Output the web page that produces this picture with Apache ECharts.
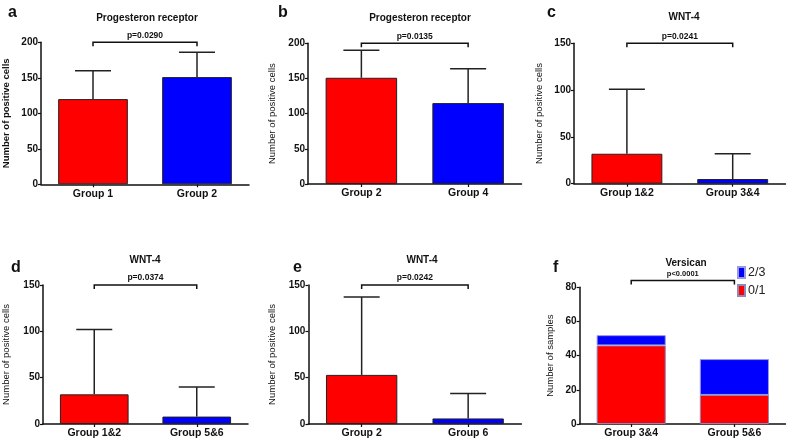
<!DOCTYPE html>
<html><head><meta charset="utf-8">
<script src="https://cdn.jsdelivr.net/npm/echarts@6/dist/echarts.min.js"></script>
<style>html,body{margin:0;padding:0;background:#fff}#c{width:786px;height:439px}</style>
</head><body><div id="c"></div>
<script>
// ---- data ----
const catsA = ['Group 1', 'Group 2'];
const meanA = [120, 151];
const sdA = [40, 35];
const catsB = ['Group 2', 'Group 4'];
const meanB = [151, 115];
const sdB = [39, 49];
const catsC = ['Group 1&2', 'Group 3&4'];
const meanC = [32, 5];
const sdC = [69, 27];
const catsD = ['Group 1&2', 'Group 5&6'];
const meanD = [32, 8];
const sdD = [70, 32];
const catsE = ['Group 2', 'Group 6'];
const meanE = [53, 6];
const sdE = [84, 27];
const catsF = ['Group 3&4', 'Group 5&6'];
const fLow = [46, 17];   // 0/1
const fHigh = [6, 21];   // 2/3
const titles = ['Progesteron receptor', 'Progesteron receptor', 'WNT-4', 'WNT-4', 'WNT-4', 'Versican'];
const panelLetters = ['a', 'b', 'c', 'd', 'e', 'f'];
const pTexts = ['p=0.0290', 'p=0.0135', 'p=0.0241', 'p=0.0374', 'p=0.0242', 'p<0.0001'];
const bracketLevels = [200, 200, 150, 150, 150, 84];
const yMax = [200, 200, 150, 150, 150, 80];
const yInt = [50, 50, 50, 50, 50, 20];
const yNames = ['Number of positive cells', 'Number of positive cells', 'Number of positive cells', 'Number of positive cells', 'Number of positive cells', 'Number of samples'];

// ---- layout ----
const FONT = 'Liberation Sans, Arial, sans-serif';
const RED = '#ff0000', BLUE = '#0000ff';
const grids = [
  {left: 35, top: 42.3, width: 214, height: 142},
  {left: 308, top: 43.3, width: 213.5, height: 140.7},
  {left: 574, top: 43.3, width: 211.6, height: 140.4},
  {left: 37, top: 285, width: 211, height: 141.7},
  {left: 308.4, top: 285, width: 213, height: 141.7},
  {left: 579.6, top: 287.3, width: 206.4, height: 137}
];
const nameGaps = [30, 31, 30, 32, 31, 24];
const nameBold = [true, false, false, false, false, false];
const titlePos = [[142, 13], [415, 13], [679, 12], [140, 255], [417, 255], [681, 258]];
const letterPos = [[3, 0], [273, 0], [542, 0], [6, 255], [288, 255], [548, 255]];
const allCats = [catsA, catsB, catsC, catsD, catsE, catsF];
const means = [meanA, meanB, meanC, meanD, meanE];
const sds = [sdA, sdB, sdC, sdD, sdE];

const xAxis = [], yAxis = [], series = [], title = [];
for (let i = 0; i < 6; i++) {
  xAxis.push({
    gridIndex: i, type: 'category', data: allCats[i],
    axisLine: {lineStyle: {color: '#111', width: 1.5}},
    axisTick: {show: true, alignWithLabel: true, length: 3, lineStyle: {color: '#111', width: 1.2}},
    axisLabel: {fontFamily: FONT, fontWeight: 'bold', fontSize: 10.5, color: '#111', margin: 4}
  });
  yAxis.push({
    gridIndex: i, type: 'value', min: 0, max: yMax[i], interval: yInt[i],
    name: yNames[i], nameLocation: 'middle', nameGap: nameGaps[i], nameRotate: 90,
    nameTextStyle: {fontFamily: FONT, fontSize: 9.5, fontWeight: nameBold[i] ? 'bold' : 'normal', color: '#111'},
    axisLine: {show: true, lineStyle: {color: '#111', width: 1.5}},
    axisTick: {show: true, length: 3, lineStyle: {color: '#111', width: 1.2}},
    axisLabel: {fontFamily: FONT, fontWeight: 'bold', fontSize: 10, color: '#111', margin: 3},
    splitLine: {show: false}
  });
  title.push({text: titles[i], left: titlePos[i][0], top: titlePos[i][1], textAlign: 'center', textVerticalAlign: 'middle',
    textStyle: {fontFamily: FONT, fontWeight: 'bold', fontSize: 10, color: '#111'}});
  title.push({text: panelLetters[i], left: letterPos[i][0], top: letterPos[i][1],
    textStyle: {fontFamily: FONT, fontWeight: 'bold', fontSize: 16, color: '#111'}});
  // bracket with p-value
  series.push({
    type: 'custom', xAxisIndex: i, yAxisIndex: i, z: 5, silent: true,
    data: [[0, bracketLevels[i], 1]],
    renderItem: (function (idx) {
      return function (params, api) {
        const p0 = api.coord([0, api.value(1)]);
        const p1 = api.coord([1, api.value(1)]);
        return {type: 'group', children: [
          {type: 'polyline', shape: {points: [[p0[0], p0[1] + 4], [p0[0], p0[1]], [p1[0], p1[1]], [p1[0], p1[1] + 4]]},
            style: {stroke: '#111', lineWidth: 1.5, fill: null}},
          {type: 'text', style: {text: pTexts[idx], x: (p0[0] + p1[0]) / 2, y: p0[1] - 7,
            align: 'center', verticalAlign: 'middle', fontFamily: FONT, fontWeight: 'bold',
            fontSize: idx === 5 ? 7.5 : 8.5, fill: '#111'}}
        ]};
      };
    })(i)
  });
}

for (let i = 0; i < 5; i++) {
  series.push({
    type: 'bar', xAxisIndex: i, yAxisIndex: i, barWidth: '67%',
    data: means[i].map((v, k) => ({value: v, itemStyle: {color: k === 0 ? RED : BLUE}})),
    itemStyle: {borderColor: '#222', borderWidth: 1}
  });
  series.push({
    type: 'custom', xAxisIndex: i, yAxisIndex: i, z: 4, silent: true,
    data: means[i].map((v, k) => [k, v, v + sds[i][k]]),
    renderItem: function (params, api) {
      const b = api.coord([api.value(0), api.value(1)]);
      const t = api.coord([api.value(0), api.value(2)]);
      const hw = 18;
      return {type: 'group', children: [
        {type: 'line', shape: {x1: t[0], y1: b[1], x2: t[0], y2: t[1]}, style: {stroke: '#222', lineWidth: 1.5}},
        {type: 'line', shape: {x1: t[0] - hw, y1: t[1], x2: t[0] + hw, y2: t[1]}, style: {stroke: '#222', lineWidth: 1.5}}
      ]};
    }
  });
}

series.push({
  name: '0/1', type: 'bar', stack: 'f', xAxisIndex: 5, yAxisIndex: 5, barWidth: '67%',
  data: fLow, itemStyle: {color: RED, borderColor: '#9088b8', borderWidth: 1}
});
series.push({
  name: '2/3', type: 'bar', stack: 'f', xAxisIndex: 5, yAxisIndex: 5, barWidth: '67%',
  data: fHigh, itemStyle: {color: BLUE, borderColor: '#9a9ae0', borderWidth: 1}
});

const chart = echarts.init(document.getElementById('c'), null, {renderer: 'canvas'});
chart.setOption({
  animation: false,
  backgroundColor: '#fff',
  title: title,
  grid: grids,
  xAxis: xAxis,
  yAxis: yAxis,
  legend: {
    data: ['2/3', '0/1'], orient: 'vertical', left: 737, top: 266, icon: 'rect',
    itemWidth: 7, itemHeight: 11, itemGap: 5,
    textStyle: {fontFamily: FONT, fontSize: 12.5, color: '#222', padding: [0, 0, 0, -2]},
    padding: 0, selectedMode: false
  },
  series: series
});
</script></body></html>
